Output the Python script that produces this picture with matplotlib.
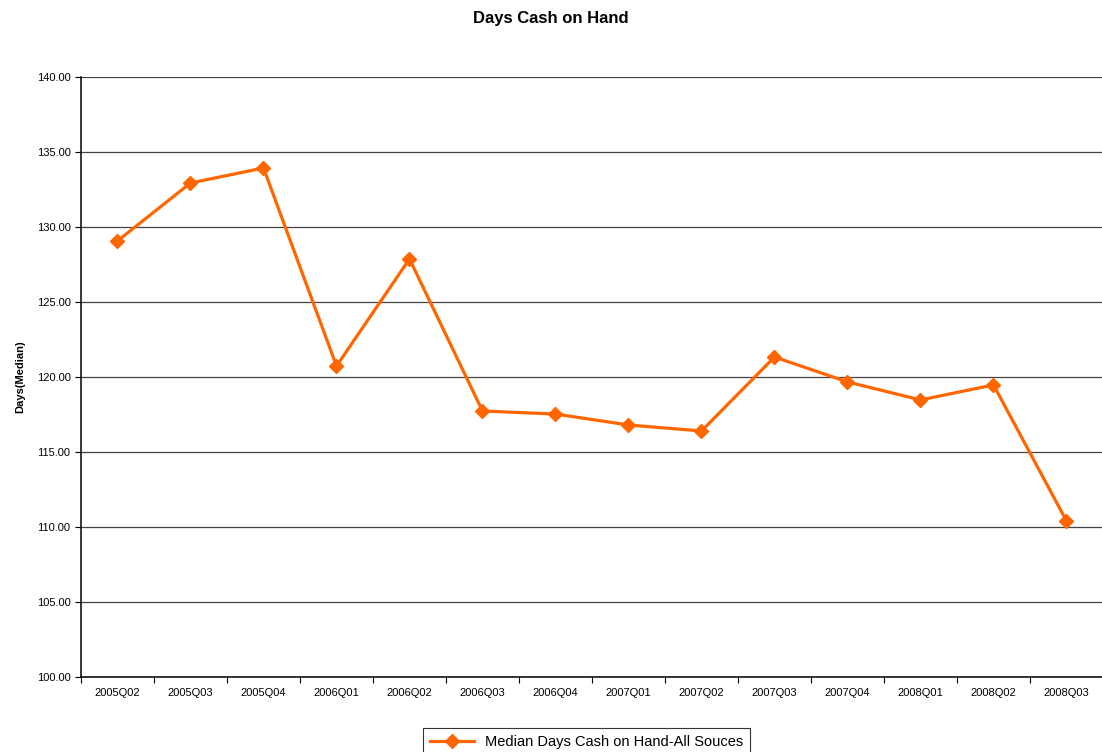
import matplotlib
matplotlib.use("Agg")
import matplotlib.pyplot as plt
from matplotlib.ticker import FixedLocator, NullFormatter, FixedFormatter

plt.rcParams['font.family'] = ['Liberation Sans Narrow', 'Liberation Sans', 'DejaVu Sans']

quarters = ["2005Q02", "2005Q03", "2005Q04", "2006Q01", "2006Q02", "2006Q03", "2006Q04",
            "2007Q01", "2007Q02", "2007Q03", "2007Q04", "2008Q01", "2008Q02", "2008Q03"]
median_days = [129.07, 132.93, 133.93, 120.73, 127.87, 117.73, 117.53,
               116.8, 116.4, 121.33, 119.67, 118.47, 119.47, 110.4]
yticks = [100, 105, 110, 115, 120, 125, 130, 135, 140]

fig = plt.figure(figsize=(11.02, 7.52), dpi=100)
ax = fig.add_axes([0.0735, 0.0997, 0.9274, 0.798])

x = list(range(len(quarters)))
ax.plot(x, median_days, color='#FF6600', lw=2.3, marker='D', ms=7,
        label='Median Days Cash on Hand-All Souces', zorder=3)

ax.set_xlim(-0.5, len(quarters) - 0.5)
ax.set_ylim(100, 140)
ax.set_yticks(yticks)
ax.set_yticklabels([f"{v:.2f}" for v in yticks], fontsize=8)
ax.yaxis.grid(True, color='#444444', lw=0.9)
ax.set_axisbelow(True)

ax.xaxis.set_major_locator(FixedLocator([i - 0.5 for i in range(len(quarters) + 1)]))
ax.xaxis.set_major_formatter(NullFormatter())
ax.xaxis.set_minor_locator(FixedLocator(x))
ax.xaxis.set_minor_formatter(FixedFormatter(quarters))
ax.tick_params(axis='x', which='minor', length=0, labelsize=8, pad=8)
ax.tick_params(axis='x', which='major', length=4, direction='out')
ax.tick_params(axis='y', length=4, direction='out')

for s in ['top', 'right']:
    ax.spines[s].set_visible(False)
ax.spines['left'].set_linewidth(1.1)
ax.spines['bottom'].set_linewidth(1.1)

ax.set_ylabel('Days(Median)', fontsize=8, fontweight='bold', labelpad=8)
fig.suptitle('Days Cash on Hand', fontsize=12, fontweight='bold', y=0.985)

leg = ax.legend(loc='upper center', bbox_to_anchor=(0.495, -0.073), frameon=True,
                fancybox=False, edgecolor='black', fontsize=10.5, borderpad=0.45,
                handlelength=3)
leg.get_frame().set_linewidth(0.8)

fig.savefig('out.png', dpi=100)
